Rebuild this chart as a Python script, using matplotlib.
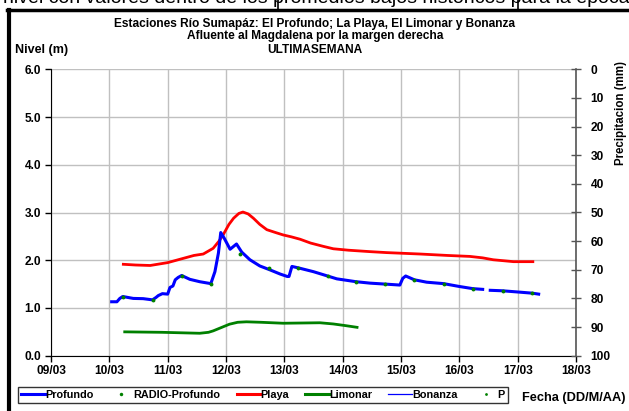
import numpy as np
import matplotlib
matplotlib.use("Agg")
import matplotlib.pyplot as plt
from matplotlib.lines import Line2D

plt.rcParams['font.family'] = ['Liberation Sans', 'DejaVu Sans']
plt.rcParams['font.weight'] = 'bold'

# ---------------- data ----------------
x_ticks = [9, 10, 11, 12, 13, 14, 15, 16, 17, 18]
x_labels = ["09/03", "10/03", "11/03", "12/03", "13/03", "14/03", "15/03", "16/03", "17/03", "18/03"]
y_ticks = [0.0, 1.0, 2.0, 3.0, 4.0, 5.0, 6.0]
p_ticks = [0, 10, 20, 30, 40, 50, 60, 70, 80, 90, 100]

profundo_t = [10.04, 10.13, 10.18, 10.23, 10.41, 10.58, 10.74, 10.80, 10.84, 10.91, 11.00,
              11.04, 11.09, 11.13, 11.18, 11.24, 11.38, 11.55, 11.74, 11.81, 11.87, 11.91,
              11.97, 12.07, 12.18, 12.27, 12.41, 12.58, 12.75, 12.93, 13.05, 13.08, 13.13,
              13.24, 13.50, 13.74, 13.90, 14.23, 14.47, 14.73, 14.98, 15.03, 15.08, 15.23,
              15.44, 15.73, 16.00, 16.23, 16.40, 16.46, 16.53, 16.74, 17.05, 17.25, 17.36]
profundo_v = [1.13, 1.13, 1.20, 1.24, 1.20, 1.195, 1.17, 1.22, 1.26, 1.30, 1.29,
              1.43, 1.46, 1.59, 1.64, 1.68, 1.60, 1.55, 1.51, 1.76, 2.15, 2.58,
              2.46, 2.23, 2.34, 2.17, 2.01, 1.88, 1.80, 1.71, 1.66, 1.66, 1.87,
              1.84, 1.76, 1.67, 1.61, 1.55, 1.52, 1.50, 1.48, 1.62, 1.67, 1.59,
              1.54, 1.51, 1.45, 1.405, 1.39, np.nan, 1.37, 1.36, 1.33, 1.31, 1.29]

radio_t = [10.23, 10.74, 11.24, 11.74, 12.24, 12.74, 13.24, 13.74, 14.23, 14.73,
           15.23, 15.73, 16.23, 16.74, 17.25]
radio_v = [1.24, 1.17, 1.68, 1.51, 2.13, 1.845, 1.845, 1.67, 1.55, 1.50,
           1.585, 1.51, 1.405, 1.36, 1.31]

playa_t = [10.24, 10.45, 10.70, 11.00, 11.27, 11.45, 11.61, 11.78, 11.88, 11.95, 12.05,
           12.13, 12.22, 12.29, 12.38, 12.47, 12.58, 12.70, 12.85, 12.98, 13.12, 13.27,
           13.45, 13.67, 13.84, 14.10, 14.47, 14.75, 15.33, 15.80, 16.18, 16.40, 16.58,
           16.93, 17.26]
playa_v = [1.915, 1.90, 1.89, 1.95, 2.04, 2.10, 2.13, 2.25, 2.40, 2.53, 2.75,
           2.88, 2.98, 3.01, 2.97, 2.88, 2.75, 2.64, 2.58, 2.53, 2.49, 2.44,
           2.36, 2.29, 2.24, 2.21, 2.18, 2.16, 2.13, 2.10, 2.08, 2.05, 2.01,
           1.97, 1.97]

limonar_t = [10.24, 10.90, 11.55, 11.70, 11.78, 11.92, 12.06, 12.20, 12.35, 12.60,
             12.98, 13.30, 13.61, 13.84, 14.05, 14.27]
limonar_v = [0.50, 0.49, 0.47, 0.49, 0.52, 0.59, 0.66, 0.70, 0.71, 0.70,
             0.68, 0.685, 0.69, 0.665, 0.63, 0.59]

# ---------------- figure ----------------
W, H = 629, 411
fig = plt.figure(figsize=(W / 100, H / 100), dpi=100)
fig.patch.set_facecolor('white')

def fx(px):
    return px / W

def fy(py):
    return 1 - py / H

ax = fig.add_axes([fx(51), fy(355.7), fx(576) - fx(51), fy(69.3) - fy(355.7)])

ax.plot(limonar_t, limonar_v, color='#008000', lw=2.0, solid_capstyle='butt', zorder=3)
ax.plot(playa_t, playa_v, color='#ff0000', lw=2.0, solid_joinstyle='round', zorder=3)
ax.plot(profundo_t, profundo_v, color='#0000ff', lw=2.2, solid_joinstyle='round', zorder=4)
ax.plot(radio_t, radio_v, linestyle='none', marker='o', ms=2.8, color='#008000',
        markeredgewidth=0, zorder=5)

TICK_FS = 8.6
ax.set_xlim(9, 18)
ax.set_ylim(0, 6)
ax.set_xticks(x_ticks)
ax.set_xticklabels(x_labels)
ax.set_yticks(y_ticks)
ax.set_yticklabels([f"{v:.1f}" for v in y_ticks])
ax.grid(True, color='#c0c0c0', lw=1.0)
ax.set_axisbelow(True)
ax.spines['top'].set_visible(False)
ax.spines['right'].set_visible(False)
ax.spines['left'].set_color('black')
ax.spines['bottom'].set_color('black')
ax.tick_params(axis='both', labelsize=TICK_FS, length=4, width=1, direction='out', pad=3)
for lab in ax.get_xticklabels() + ax.get_yticklabels():
    lab.set_fontweight('bold')

ax2 = ax.twinx()
ax2.set_ylim(100, 0)
ax2.set_yticks(p_ticks)
ax2.set_yticklabels([str(v) for v in p_ticks])
for s in ['top', 'left', 'bottom']:
    ax2.spines[s].set_visible(False)
ax2.spines['right'].set_color('#555555')
ax2.spines['right'].set_linewidth(1.2)
ax2.tick_params(axis='y', labelsize=TICK_FS, length=7, width=1, direction='inout', pad=7,
                color='#555555')
for lab in ax2.get_yticklabels():
    lab.set_fontweight('bold')

# titles
TITLE_FS = 8.6
fig.text(fx(315), fy(24), "Estaciones Río Sumapáz: El Profundo; La Playa, El Limonar y Bonanza",
         ha='center', va='center', fontsize=TITLE_FS, fontweight='bold')
fig.text(fx(315), fy(36.5), "Afluente al Magdalena por la margen derecha",
         ha='center', va='center', fontsize=TITLE_FS, fontweight='bold')
fig.text(fx(315), fy(50), "ULTIMASEMANA",
         ha='center', va='center', fontsize=TITLE_FS, fontweight='bold')
fig.text(fx(15), fy(50), "Nivel (m)", ha='left', va='center', fontsize=9, fontweight='bold')
fig.text(fx(621), fy(61), "Precipitacion (mm)", ha='center', va='top', rotation=90,
         fontsize=8.3, fontweight='bold')
fig.text(fx(522), fy(398), "Fecha (DD/M/AA)", ha='left', va='center', fontsize=9.2,
         fontweight='bold')

# text of the page above the chart (cut off)
fig.text(fx(3), fy(3.0), "nivel con valores dentro de los promedios bajos históricos para la época",
         ha='left', va='baseline', fontsize=14, fontweight='normal')

# page frame
fig.add_artist(Line2D([fx(8.5), fx(8.5)], [fy(10.5), 0], color='black', lw=3,
                      transform=fig.transFigure))
fig.add_artist(Line2D([fx(7), 1], [fy(10.5), fy(10.5)], color='black', lw=2.5,
                      transform=fig.transFigure))
for bx in [278, 518]:
    fig.add_artist(Line2D([fx(bx), fx(bx)], [fy(10.5), 1], color='black', lw=1.2,
                          transform=fig.transFigure))

# legend
handles = [
    Line2D([], [], color='#0000ff', lw=2.2),
    Line2D([], [], color='#008000', marker='o', ms=2.5, linestyle='none', markeredgewidth=0),
    Line2D([], [], color='#ff0000', lw=2.2),
    Line2D([], [], color='#008000', lw=2.2),
    Line2D([], [], color='#0000ff', lw=0.9),
    Line2D([], [], color='#008000', marker='o', ms=2.0, linestyle='none', markeredgewidth=0),
]
labels = ["Profundo", "RADIO-Profundo", "Playa", "Limonar", "Bonanza", "P"]
leg = fig.legend(handles, labels, loc='center', bbox_to_anchor=(fx(263), fy(395)),
                 ncol=6, fontsize=7.8, frameon=True, fancybox=False, edgecolor='black',
                 handlelength=2.2, handletextpad=0.0, columnspacing=1.5,
                 borderpad=0.3, borderaxespad=0)
leg.get_frame().set_linewidth(1.0)
for t in leg.get_texts():
    t.set_fontweight('bold')

fig.savefig("out.png", dpi=100)
